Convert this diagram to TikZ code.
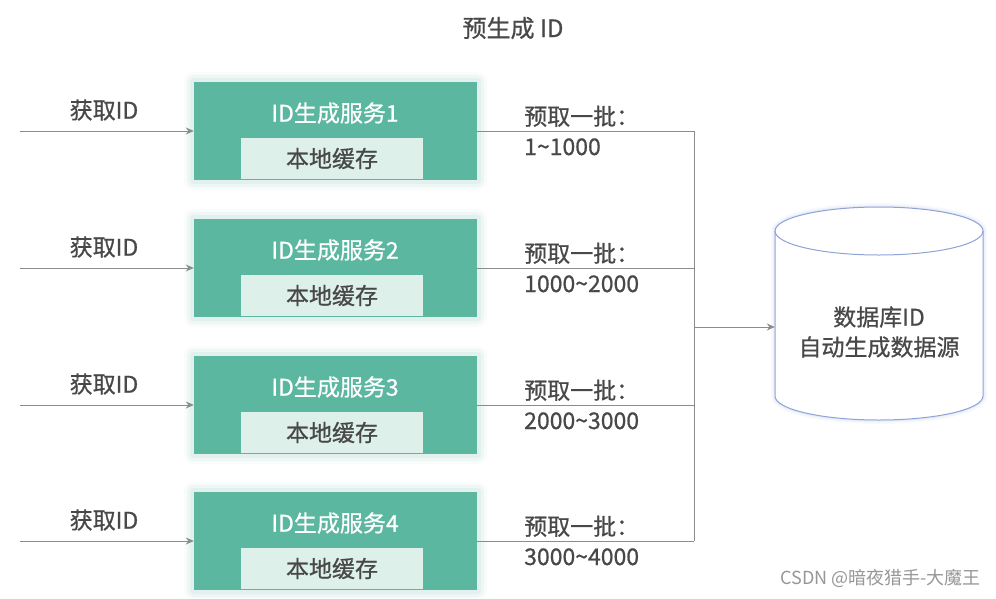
\documentclass[tikz,border=0pt]{standalone}
\usepackage{fontspec}
\setmainfont{Noto Sans CJK SC}[FakeBold=0.7]
\newfontfamily\wmfont{Noto Sans CJK SC}
\usetikzlibrary{arrows.meta}
\definecolor{boxgreen}{RGB}{92,183,160}
\definecolor{innergreen}{RGB}{221,240,234}
\definecolor{txt}{RGB}{72,72,72}
\definecolor{ln}{RGB}{140,140,140}
\definecolor{cylblue}{RGB}{143,163,217}
\tikzset{
  gbox/.style={fill=boxgreen, draw=none, minimum width=283pt, minimum height=98pt, inner sep=0pt},
  ibox/.style={fill=innergreen, draw=none, minimum width=182pt, minimum height=41pt, inner sep=0pt, text=txt, font=\fontsize{23}{26}\selectfont},
  btitle/.style={text=white, font=\fontsize{23}{26}\selectfont},
  lbl/.style={text=txt, font=\fontsize{23}{30}\selectfont, inner sep=0pt},
  conn/.style={draw=ln, line width=1pt},
  arr/.style={conn, -{Stealth[length=8pt,width=7pt]}},
}
\begin{document}
\begin{tikzpicture}[x=1pt,y=-1pt]
\useasboundingbox (0,0) rectangle (996,598);
\fill[white] (0,0) rectangle (996,598);
\node[lbl, font=\fontsize{24}{28}\selectfont] (title) at (513,28) {预生成 ID};
% service boxes
\foreach \i/\y/\a/\b in {1/131/1/1000, 2/268/1000/2000, 3/405/2000/3000, 4/541/3000/4000}{
  \foreach \g/\o in {10/0.04,7/0.06,4/0.08}{
    \fill[boxgreen, opacity=\o, rounded corners=\g pt] (194-\g,\y-49-\g) rectangle (477+\g,\y+49+\g);
  }
  \node[gbox] (s\i) at (335.5,\y) {};
  \node[btitle] (t\i) at (335,\y-18) {ID生成服务\i};
  \node[ibox] (c\i) at (332,\y+27.5) {本地缓存};
  \node[lbl] (g\i) at (104,\y-21) {获取ID};
  \coordinate (in\i) at (20,\y);
  \coordinate (j\i) at (694,\y);
  \draw[arr] (in\i) -- (s\i.west);
  \draw[conn] (s\i.east) -- (j\i);
  \node[lbl, anchor=base west] (q\i) at (524,\y-6) {预取一批：};
  \node[lbl, anchor=base west] (r\i) at (524,\y+24) {\a\char`\~\b};
}
\draw[conn] (j1) -- (j4);
% cylinder
\foreach \g/\o in {8/0.05,5/0.07,2.5/0.1}{
  \draw[cylblue, opacity=\o, line width=\g pt] (775,231) -- (775,396) arc[start angle=180,end angle=0,x radius=104,y radius=24] -- (983,231) arc[start angle=360,end angle=180,x radius=104,y radius=24];
}
\fill[white] (775,231) -- (775,396) arc[start angle=180,end angle=0,x radius=104,y radius=24] -- (983,231) arc[start angle=360,end angle=180,x radius=104,y radius=24] -- cycle;
\draw[cylblue, line width=1pt] (775,231) -- (775,396) arc[start angle=180,end angle=0,x radius=104,y radius=24] -- (983,231);
\draw[cylblue, line width=1pt] (879,231) ellipse[x radius=104, y radius=24];
\node[lbl, align=center, minimum width=208pt, minimum height=150pt] (db) at (879,332) {数据库ID\\自动生成数据源};
\coordinate (jm) at (694,327);
\draw[arr] (jm) -- (jm -| db.west);
\node[text=ln!90, font=\wmfont\fontsize{18}{20}\selectfont, anchor=east, inner sep=0pt] (wm) at (981,578) {CSDN @暗夜猎手-大魔王};
\end{tikzpicture}
\end{document}
